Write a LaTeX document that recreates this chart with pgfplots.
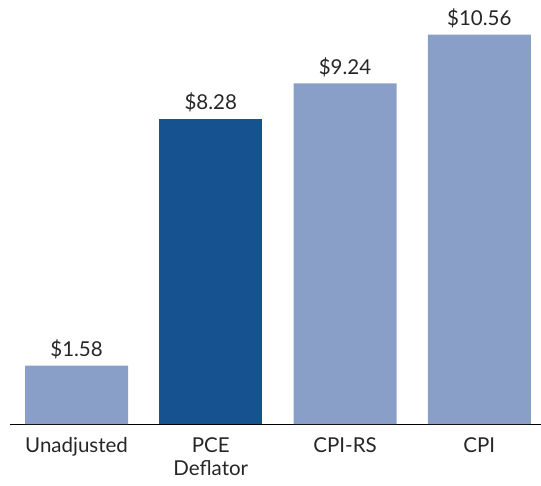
\documentclass[border=0pt]{standalone}
\usepackage{pgfplots}
\pgfplotsset{compat=1.18}
\usepackage{fontspec}
\setmainfont{Lato}
\definecolor{lightbar}{HTML}{8A9FC8}
\definecolor{darkbar}{HTML}{15528F}
\begin{document}
\begin{tikzpicture}
\begin{axis}[
  scale only axis,
  width=531pt, height=424pt,
  xmin=-0.496, xmax=3.46,
  ymin=0, ymax=11.5,
  axis x line=bottom,
  axis y line=none,
  axis line style={black, line width=1pt, -},
  xtick={0,1,2,3},
  xticklabels={Unadjusted, PCE\\Deflator, CPI-RS, CPI},
  xticklabel style={align=center, font=\fontsize{20.5}{23}\selectfont, text=black!85, yshift=-10pt},
  major tick length=0pt,
  ybar, bar width=103pt, bar shift=0pt,
  nodes near coords={\$\pgfmathprintnumber[fixed, fixed zerofill, precision=2]{\pgfplotspointmeta}},
  nodes near coords style={font=\fontsize{20.5}{22}\selectfont, text=black!85, yshift=3pt},
  /pgf/number format/assume math mode=true,
]
\addplot[fill=lightbar, draw=none] coordinates {(0,1.58) (2,9.24) (3,10.56)};
\addplot[fill=darkbar, draw=none] coordinates {(1,8.28)};
\end{axis}
\pgfresetboundingbox
\path (-10pt,-61pt) rectangle (531pt,424pt);
\end{tikzpicture}
\end{document}
